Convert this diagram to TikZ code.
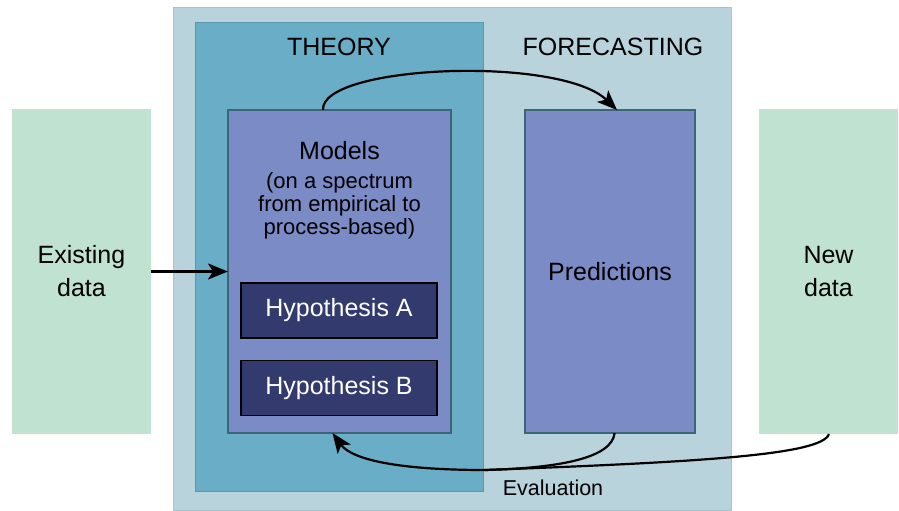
\documentclass[tikz,border=0pt]{standalone}
\usepackage{fontspec}
\setmainfont{Liberation Sans}
\usepackage{xcolor}
\usetikzlibrary{arrows.meta}
\usetikzlibrary{positioning}

\definecolor{forecastbg}{HTML}{B8D3DC}
\definecolor{forecastline}{HTML}{A6C4CF}
\definecolor{theorybg}{HTML}{6AADC6}
\definecolor{theoryline}{HTML}{5A98AF}
\definecolor{modelfill}{HTML}{7B8BC6}
\definecolor{modelline}{HTML}{3D6578}
\definecolor{hypfill}{HTML}{333A6E}
\definecolor{datafill}{HTML}{BFE3D0}

\begin{document}
\begin{tikzpicture}[x=1pt,y=-1pt]
\tikzset{region/.style={rectangle,minimum width=#1,outer sep=0pt,inner sep=0pt},
  databox/.style={rectangle,fill=datafill,minimum width=139pt,minimum height=325pt,align=center,outer sep=0pt,font=\fontsize{25}{33}\selectfont},
  modelbox/.style={rectangle,draw=modelline,line width=1.6pt,fill=modelfill,minimum height=323pt,outer sep=0pt},
  hypbox/.style={rectangle,draw=black,line width=1.4pt,fill=hypfill,text=white,minimum width=196pt,minimum height=55pt,font=\fontsize{25}{30}\selectfont},
  flow/.style={line width=2.2pt,-{Stealth[length=20pt,width=16pt,inset=5pt]}},
  evalline/.style={line width=2.2pt}}
\useasboundingbox (0,0) rectangle (899,511);
% background regions
\node[region=558pt,minimum height=503pt,fill=forecastbg,draw=forecastline,line width=0.8pt](forecast) at (452,258.5){};
\node[region=288pt,minimum height=469pt,fill=theorybg,draw=theoryline,line width=0.8pt](theory) at (339,256.5){};
\node[font=\fontsize{25}{30}\selectfont](theorytitle) at (339,47){THEORY};
\node[font=\fontsize{25}{30}\selectfont](forecasttitle) at (613,47){FORECASTING};
% data
\node[databox](existing) at (81.5,271.5){Existing\\data};
\node[databox](newdata) at (828.5,271.5){New\\data};
% models and predictions
\node[modelbox,minimum width=223pt](models) at (339.5,271.5){};
\node[font=\fontsize{25}{30}\selectfont](modelstitle) at (339.5,151){Models};
\node[font=\fontsize{22}{23}\selectfont,align=center](modelsnote) at (339.5,206){(on a spectrum\\from empirical to\\process-based)};
\node[hypbox](hypa) at (339,310.5){Hypothesis A};
\node[hypbox](hypb)[below=21pt of hypa]{Hypothesis B};
\node[modelbox,minimum width=170pt,font=\fontsize{25}{30}\selectfont](predictions) at (610,271.5){Predictions};
% arrows
\draw[flow](existing.east) -- (models.west);
\draw[flow]([xshift=-16.5pt]models.north) .. controls (320,65) and (560,55) .. ([xshift=7pt]predictions.north);
\coordinate (join) at (485,470);
\draw[evalline]([xshift=4.6pt]predictions.south) .. controls (612,458) and (560,468) .. (join);
\draw[evalline]([xshift=0.5pt]newdata.south) .. controls (822,455) and (700,462) .. (join);
\draw[flow](join) .. controls (400,470) and (352,460) .. ([xshift=-7pt]models.south);
\node[font=\fontsize{21.5}{24}\selectfont](evaluation) at (553,488){Evaluation};
\end{tikzpicture}
\end{document}
